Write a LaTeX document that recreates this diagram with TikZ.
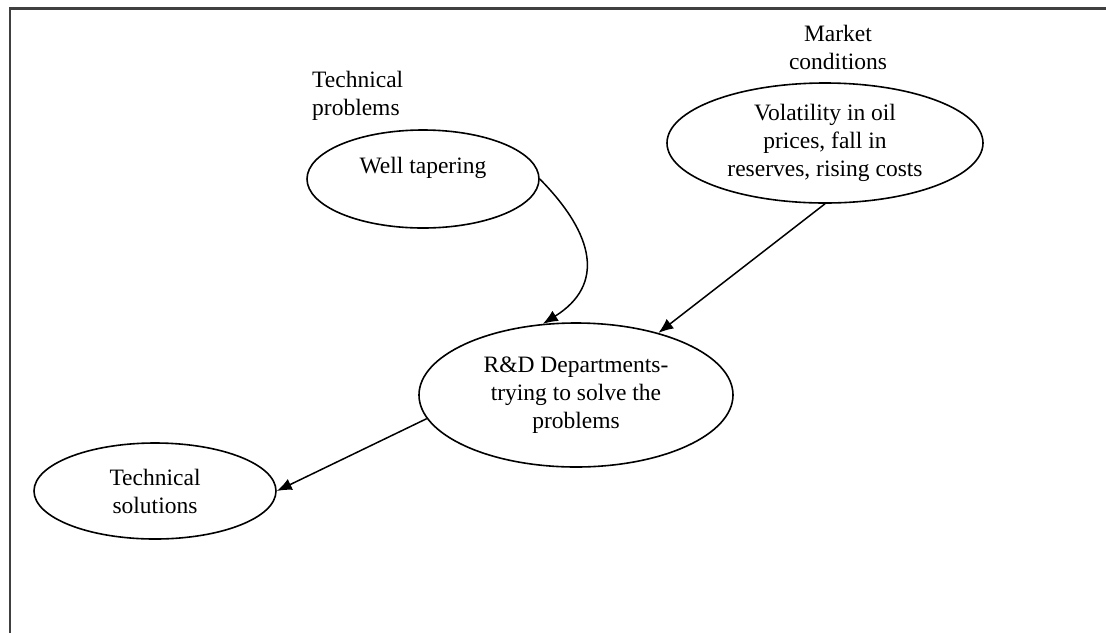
\documentclass[tikz,border=0pt]{standalone}
\usepackage{fontspec}
\setmainfont{Liberation Serif}
\usepackage{tikz}
\usetikzlibrary{arrows.meta}
\usetikzlibrary{shapes.geometric}
\usetikzlibrary{positioning}

\begin{document}
\begin{tikzpicture}
	 [x=1pt, y=-1pt,
	> = {Latex[length=15pt,width=12pt]},
	every node/.style={font=\fontsize{23.5}{28}\selectfont, inner sep=0pt},
	bubble/.style = {draw, ellipse, line width=1.6pt, align=center},
	heading/.style = {align=left},
	link/.style = {->, line width=1.5pt}
	]
	\useasboundingbox (0,0) rectangle (1106,633);

	\coordinate (c1) at (423,179);
	\coordinate (c2) at (825,143);
	\coordinate (c3) at (576,395);
	\coordinate (c4) at (155,491);

	% frame, cut at the right and bottom
	\draw[line width=2.2pt, black!75] (1106,8.5) -| (10,633);

	\node[heading, anchor=north west] (tprob) at (312,71) {Technical\\problems};
	\node[heading, align=center, anchor=north] (mcond) at (838,25) {Market\\conditions};

	\node[bubble, minimum width=232, minimum height=98] (well) at (c1) {Well tapering\\ \mbox{}};
	\node[bubble, minimum width=316, minimum height=120] (vol) at (c2) {Volatility in oil\\prices, fall in\\reserves, rising costs};
	\node[bubble, minimum width=314, minimum height=144] (rnd) at (c3) {R\&D Departments-\\trying to solve the\\problems};
	\node[bubble, minimum width=242, minimum height=96] (sol) at (c4) {Technical\\solutions};

	\draw[link] (well.east) .. controls (595,235) and (605,285) .. (rnd.115);
	\draw[link] (vol.south) -- (rnd.37);
	\draw[link] (rnd.189) -- (sol.east);
\end{tikzpicture}
\end{document}
